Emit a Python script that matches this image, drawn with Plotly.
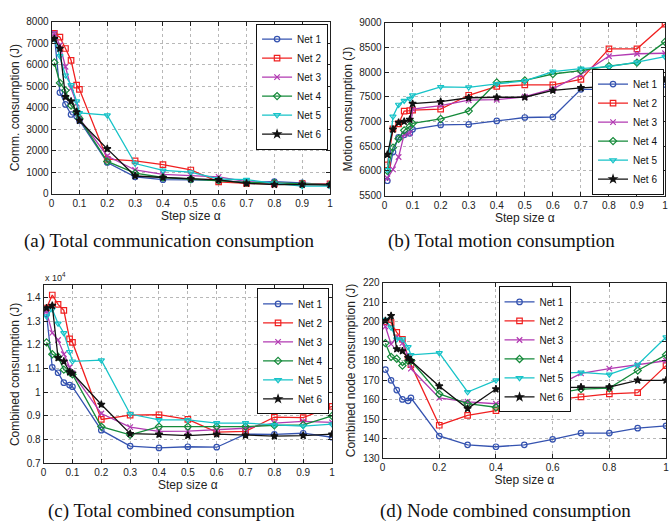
import plotly.graph_objects as go

alpha = [0.01, 0.03, 0.05, 0.07, 0.09, 0.1, 0.2, 0.3, 0.4, 0.5, 0.6, 0.7, 0.8, 0.9, 1.0]
nets = ["Net 1", "Net 2", "Net 3", "Net 4", "Net 5", "Net 6"]

# (a) Total communication consumption (J)
comm_net1 = [7400, 4700, 4150, 3680, 3600, 3400, 1450, 780, 650, 640, 620, 520, 560, 500, 390]
comm_net2 = [7450, 7280, 6750, 6200, 5050, 4850, 1600, 1520, 1350, 1100, 550, 480, 450, 470, 450]
comm_net3 = [7450, 6900, 5900, 4900, 4200, 3500, 1750, 1100, 900, 850, 780, 560, 480, 450, 430]
comm_net4 = [6100, 5150, 4800, 4100, 3800, 3500, 1500, 950, 750, 680, 620, 520, 500, 450, 420]
comm_net5 = [7200, 6400, 5500, 5050, 4300, 3750, 3650, 1400, 1080, 1000, 680, 650, 480, 350, 350]
comm_net6 = [7200, 6750, 4500, 4300, 3800, 3400, 2080, 820, 750, 680, 640, 480, 420, 420, 410]

# (b) Total motion consumption (J)
motion_net1 = [5800, 6380, 6680, 6730, 6760, 6840, 6930, 6940, 7010, 7080, 7090, 7650, 7650, 7790, 7750]
motion_net2 = [6120, 6850, 6950, 7210, 7220, 7230, 7250, 7530, 7710, 7740, 7740, 7850, 8470, 8470, 8970]
motion_net3 = [5850, 6030, 6280, 6740, 6760, 7250, 7320, 7430, 7440, 7500, 7660, 7950, 8320, 8370, 8380]
motion_net4 = [6000, 6470, 6650, 6820, 6900, 6960, 7050, 7210, 7790, 7830, 7960, 8030, 8120, 8190, 8610]
motion_net5 = [6020, 7100, 7340, 7420, 7460, 7530, 7700, 7690, 7760, 7820, 8010, 8070, 8110, 8200, 8310]
motion_net6 = [6330, 6840, 6980, 7000, 7040, 7360, 7400, 7480, 7490, 7490, 7630, 7680, 7710, 7770, 7840]

# (c) Total combined consumption (J)
comb_net1 = [13300, 11050, 10820, 10400, 10300, 10230, 8400, 7730, 7650, 7700, 7680, 8230, 8220, 8270, 8100]
comb_net2 = [13550, 14100, 13700, 13450, 12250, 12100, 8850, 9030, 9050, 8850, 8320, 8350, 8950, 8930, 9400]
comb_net3 = [13400, 12500, 12200, 11600, 11050, 10800, 9100, 8530, 8350, 8360, 8420, 8480, 8700, 8770, 8730]
comb_net4 = [12100, 11600, 11500, 10950, 10850, 10750, 8550, 8200, 8550, 8550, 8550, 8550, 8600, 8620, 9000]
comb_net5 = [13200, 13500, 12900, 12500, 11700, 11300, 11350, 9080, 8830, 8830, 8700, 8700, 8620, 8570, 8650]
comb_net6 = [13550, 13650, 11450, 11300, 10850, 10800, 9480, 8250, 8220, 8170, 8230, 8180, 8150, 8170, 8230]

# (d) Node combined consumption (J)
node_net1 = [175.5, 170, 165, 160.2, 159.5, 161, 141.5, 137, 136, 137, 139.8, 143, 143, 145.5, 146.7]
node_net2 = [200, 199.5, 194.5, 191, 182, 178, 147, 152, 154.5, 159, 160, 161.5, 163, 163.7, 177.5]
node_net3 = [197.5, 188.5, 192, 189, 182, 176, 161, 159, 158, 159.5, 166, 173.5, 176, 178, 180]
node_net4 = [189, 182, 181, 177.5, 180, 180, 163, 158, 156.2, 161, 163, 165.5, 166, 175, 183]
node_net5 = [201, 197, 191, 191, 187, 183, 184, 164, 170, 175, 173.5, 174, 173, 178, 192]
node_net6 = [200.5, 203, 186, 185, 181.5, 180, 167, 155.5, 165.5, 165.7, 166.3, 166.5, 166.5, 170, 170]

colors = ["#3553b0", "#f02020", "#b23ab2", "#158a3a", "#17c3c8", "#111111"]
symbols = ["circle-open", "square-open", "x-thin-open", "diamond-open", "triangle-down-open", "star"]

panels = [
    [comm_net1, comm_net2, comm_net3, comm_net4, comm_net5, comm_net6],
    [motion_net1, motion_net2, motion_net3, motion_net4, motion_net5, motion_net6],
    [comb_net1, comb_net2, comb_net3, comb_net4, comb_net5, comb_net6],
    [node_net1, node_net2, node_net3, node_net4, node_net5, node_net6],
]
legend_ids = ["legend", "legend2", "legend3", "legend4"]

fig = go.Figure()
for p, series in enumerate(panels):
    sfx = "" if p == 0 else str(p + 1)
    for i, ys in enumerate(series):
        fig.add_trace(go.Scatter(
            x=alpha, y=ys, name=nets[i], mode="lines+markers",
            line=dict(color=colors[i], width=1.3),
            marker=dict(symbol=symbols[i], size=5.5, color=colors[i],
                        line=dict(color=colors[i], width=1.2)),
            xaxis="x" + sfx, yaxis="y" + sfx, legend=legend_ids[p],
        ))

W, H = 671, 527
def dx(a, b):
    return [a / W, b / W]
def dy(top, bot):
    return [1 - bot / H, 1 - top / H]

tickfont = dict(family="Liberation Sans, Arial", size=10, color="#222")
titlefont = dict(family="Liberation Sans, Arial", size=12, color="#222")

def xax(domain, anchor, vals, texts):
    return dict(domain=domain, anchor=anchor, range=[0, 1], tickvals=vals, ticktext=texts,
                showline=True, linecolor="#222", linewidth=1, mirror="allticks",
                ticks="inside", ticklen=4, tickcolor="#222",
                showgrid=True, gridcolor="#b8b8b8", griddash="dot", gridwidth=1,
                zeroline=False, tickfont=tickfont,
                title=dict(text="Step size α", font=titlefont, standoff=2))

def yax(domain, anchor, rng, vals, texts, title):
    return dict(domain=domain, anchor=anchor, range=rng, tickvals=vals, ticktext=texts,
                showline=True, linecolor="#222", linewidth=1, mirror="allticks",
                ticks="inside", ticklen=4, tickcolor="#222",
                showgrid=True, gridcolor="#b8b8b8", griddash="dot", gridwidth=1,
                zeroline=False, tickfont=tickfont,
                title=dict(text=title, font=titlefont, standoff=4))

x10 = [0, 0.1, 0.2, 0.3, 0.4, 0.5, 0.6, 0.7, 0.8, 0.9, 1.0]
x10t = ["0", "0.1", "0.2", "0.3", "0.4", "0.5", "0.6", "0.7", "0.8", "0.9", "1"]
x5 = [0, 0.2, 0.4, 0.6, 0.8, 1.0]
x5t = ["0", "0.2", "0.4", "0.6", "0.8", "1"]

ya_vals = list(range(0, 8001, 1000))
yb_vals = list(range(5500, 9001, 500))
yc_vals = [7000, 8000, 9000, 10000, 11000, 12000, 13000, 14000]
yc_text = ["0.7", "0.8", "0.9", "1", "1.1", "1.2", "1.3", "1.4"]
yd_vals = list(range(130, 221, 10))

legend_common = dict(bgcolor="white", bordercolor="#111", borderwidth=1,
                     font=dict(family="Liberation Sans, Arial", size=10, color="#111"),
                     itemwidth=30, tracegroupgap=0)

fig.update_layout(
    width=W, height=H, autosize=False,
    margin=dict(l=0, r=0, t=0, b=0),
    paper_bgcolor="white", plot_bgcolor="white",
    xaxis=xax(dx(49, 330), "y", x10, x10t),
    yaxis=yax(dy(16, 192), "x", [0, 8000], ya_vals, [str(v) for v in ya_vals], "Comm. consumption (J)"),
    xaxis2=xax(dx(385, 668), "y2", x10, x10t),
    yaxis2=yax(dy(17, 194), "x2", [5500, 9000], yb_vals, [str(v) for v in yb_vals], "Motion consumption (J)"),
    xaxis3=xax(dx(41, 332), "y3", x10, x10t),
    yaxis3=yax(dy(286, 468), "x3", [7000, 14500], yc_vals, yc_text, "Combined consumption (J)"),
    xaxis4=xax(dx(383, 669), "y4", x5, x5t),
    yaxis4=yax(dy(283, 463), "x4", [130, 220], yd_vals, [str(v) for v in yd_vals], "Combined node consumption (J)"),
    legend=dict(x=328 / W, y=1 - 18 / H, xanchor="right", yanchor="top", **legend_common),
    legend2=dict(x=667 / W, y=1 - 193 / H, xanchor="right", yanchor="bottom", **legend_common),
    legend3=dict(x=329 / W, y=1 - 289 / H, xanchor="right", yanchor="top", **legend_common),
    legend4=dict(x=500 / W, y=1 - 287 / H, xanchor="left", yanchor="top", **legend_common),
)

capfont = dict(family="Liberation Serif, Times New Roman", size=19, color="#111")
captions = [
    ("(a) Total communication consumption", 168, 240),
    ("(b) Total motion consumption", 503, 240),
    ("(c) Total combined consumption", 170, 517),
    ("(d) Node combined consumption", 507, 517),
]
for text, cx, cy in captions:
    fig.add_annotation(text=text, x=cx / W, y=1 - cy / H, xref="paper", yref="paper",
                       showarrow=False, xanchor="center", yanchor="middle", font=capfont)

fig.add_annotation(text="x 10<sup>4</sup>", x=40 / W, y=1 - 285 / H, xref="paper", yref="paper",
                   showarrow=False, xanchor="left", yanchor="bottom",
                   font=dict(family="Liberation Sans, Arial", size=9, color="#222"))

fig.write_html("out.html", config={"displayModeBar": False},
               post_script="document.body.style.margin='0';document.body.style.overflow='hidden';")
